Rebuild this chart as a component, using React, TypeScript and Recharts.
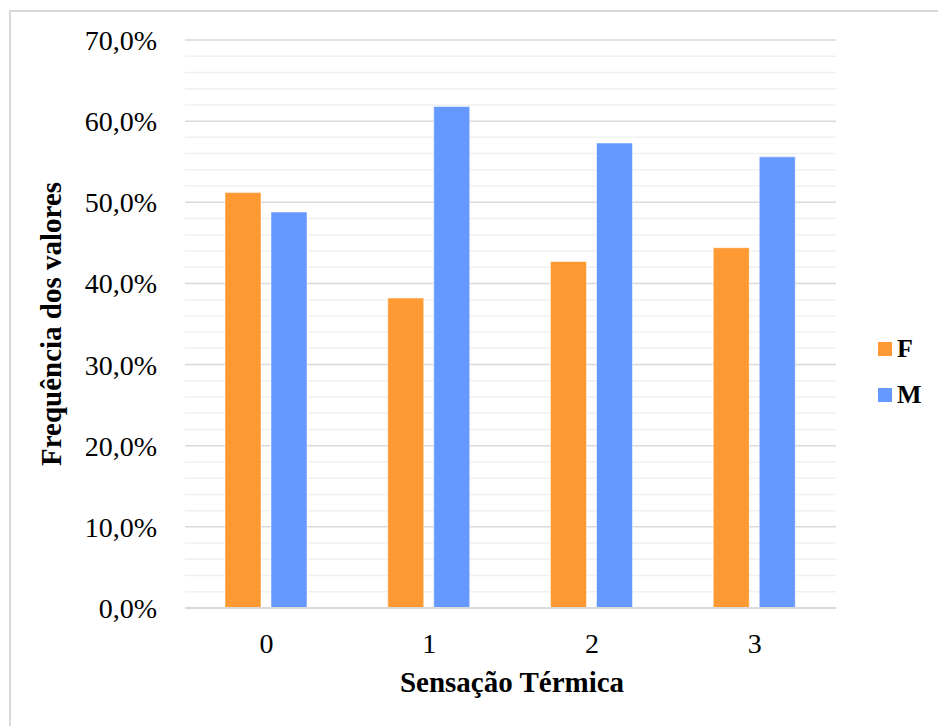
import React from 'react';
import {
  BarChart,
  Bar,
  XAxis,
  YAxis,
  CartesianGrid,
  Legend,
  Label
} from 'recharts';

const categories = ['0', '1', '2', '3'];
const femaleValues = [51.2, 38.2, 42.7, 44.4];
const maleValues = [48.8, 61.8, 57.3, 55.6];
const majorTicks = [0, 10, 20, 30, 40, 50, 60, 70];
const minorTicks = [
  2, 4, 6, 8, 12, 14, 16, 18, 22, 24, 26, 28, 32, 34, 36, 38,
  42, 44, 46, 48, 52, 54, 56, 58, 62, 64, 66, 68
];

const data = categories.map((cat, i) => ({
  cat,
  F: femaleValues[i],
  M: maleValues[i]
}));

const SERIF = '"Liberation Serif", "Times New Roman", serif';
const ORANGE = '#FF9933';
const BLUE = '#6699FF';

const fmtPct = (v: number) => v.toFixed(1).replace('.', ',') + '%';

const LegendBox = ({ payload }: any) => (
  <div style={{ fontFamily: SERIF, fontWeight: 'bold', fontSize: 26, color: '#000' }}>
    {(payload || []).map((p: any) => (
      <div key={p.value} style={{ display: 'flex', alignItems: 'center', height: 46 }}>
        <span style={{ width: 14, height: 14, background: p.color, marginRight: 5, display: 'inline-block' }} />
        <span>{p.value}</span>
      </div>
    ))}
  </div>
);

export default function App() {
  return (
    <div
      style={{
        position: 'fixed',
        left: 0,
        top: 0,
        width: 938,
        height: 726,
        overflow: 'hidden',
        background: '#fff'
      }}
    >
      {/* outer frame, runs off the right and bottom edges */}
      <div
        style={{
          position: 'absolute',
          left: 9,
          top: 10,
          width: 960,
          height: 760,
          border: '2px solid #d9d9d9',
          boxSizing: 'border-box'
        }}
      />
      <div style={{ position: 'absolute', left: 0, top: 0 }}>
        <BarChart
          width={938}
          height={726}
          data={data}
          margin={{ top: 40, right: 42, bottom: 0, left: 20 }}
          barSize={36}
          barGap={10}
        >
          <CartesianGrid
            vertical={false}
            horizontalValues={minorTicks}
            stroke="#f0f0f0"
            strokeWidth={1.5}
          />
          <CartesianGrid
            vertical={false}
            horizontalValues={majorTicks}
            stroke="#d9d9d9"
            strokeWidth={1.5}
          />
          <XAxis
            dataKey="cat"
            axisLine={{ stroke: '#d9d9d9', strokeWidth: 2 }}
            tickLine={false}
            tickSize={0}
            tickMargin={25}
            tick={{ fill: '#000', fontFamily: SERIF, fontSize: 28 }}
            height={118}
          >
            <Label
              content={() => (
                <text
                  x={512}
                  y={692}
                  textAnchor="middle"
                  fontFamily={SERIF}
                  fontWeight="bold"
                  fontSize={29}
                  fill="#000"
                >
                  Sensação Térmica
                </text>
              )}
            />
          </XAxis>
          <YAxis
            domain={[0, 70]}
            ticks={majorTicks}
            interval={0}
            axisLine={false}
            tickLine={false}
            tickSize={0}
            tickMargin={28}
            width={165}
            tickFormatter={fmtPct}
            tick={{ fill: '#000', fontFamily: SERIF, fontSize: 28 }}
          >
            <Label
              content={() => (
                <text
                  x={61}
                  y={324}
                  transform="rotate(-90, 61, 324)"
                  textAnchor="middle"
                  fontFamily={SERIF}
                  fontWeight="bold"
                  fontSize={29}
                  fill="#000"
                >
                  Frequência dos valores
                </text>
              )}
            />
          </YAxis>
          <Legend
            layout="vertical"
            align="right"
            verticalAlign="top"
            content={<LegendBox />}
            wrapperStyle={{ left: 878, top: 326, width: 60 }}
          />
          <Bar dataKey="F" name="F" fill={ORANGE} stroke="#fff" strokeOpacity={0.5} isAnimationActive={false} />
          <Bar dataKey="M" name="M" fill={BLUE} stroke="#fff" strokeOpacity={0.5} isAnimationActive={false} />
        </BarChart>
      </div>
    </div>
  );
}
